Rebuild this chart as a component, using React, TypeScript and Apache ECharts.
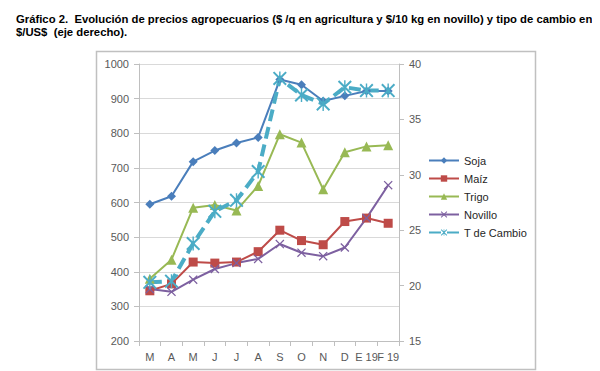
import React, { useEffect, useRef } from "react";
import * as echarts from "echarts";

const months = ["M", "A", "M", "J", "J", "A", "S", "O", "N", "D", "E 19", "F 19"];
const soja = [595, 618, 718, 750, 772, 788, 955, 940, 893, 908, 922, 922];
const maiz = [345, 365, 428, 425, 428, 458, 520, 490, 478, 545, 555, 540];
const trigo = [380, 435, 585, 593, 577, 648, 797, 773, 638, 745, 762, 765];
const novillo = [350, 342, 377, 408, 425, 437, 480, 455, 445, 470, 555, 650];
const tCambio = [20.3, 20.4, 23.8, 26.7, 27.7, 30.3, 38.7, 37.2, 36.4, 37.9, 37.6, 37.6];

const titleText =
  "Gráfico 2.  Evolución de precios agropecuarios ($ /q en agricultura y $/10 kg en novillo) y tipo de cambio en\n$/US$  (eje derecho).";

const X_SYMBOL = "path://M0,1L1,0L5,4L9,0L10,1L6,5L10,9L9,10L5,6L1,10L0,9L4,5Z";
const STAR_SYMBOL =
  "path://M0,1L1,0L5,4L9,0L10,1L6,5L10,9L9,10L5,6L1,10L0,9L4,5Z M4.5,0L5.5,0L5.5,10L4.5,10Z";

export default function App() {
  const ref = useRef<HTMLDivElement>(null);
  useEffect(() => {
    if (!ref.current) return;
    const chart = echarts.init(ref.current, null, { renderer: "svg" });
    const axisFont = { fontFamily: "Liberation Sans", fontSize: 11, color: "#595959" };
    chart.setOption({
      animation: false,
      backgroundColor: "#ffffff",
      graphic: [
        {
          type: "rect",
          shape: { x: 88.5, y: 43.5, width: 439, height: 318 },
          style: { fill: "none", stroke: "#c0c0c0", lineWidth: 1.5 },
          z: -1,
        },
        {
          type: "text",
          left: 8,
          top: 4,
          style: {
            text: titleText,
            font: "bold 11.3px 'Liberation Sans', Arial, sans-serif",
            fill: "#000000",
            lineHeight: 13,
          },
        },
      ],
      grid: { left: 131, right: 209, top: 56, bottom: 38, containLabel: false },
      legend: {
        orient: "vertical",
        left: 420,
        top: 147,
        padding: 0,
        itemWidth: 30,
        itemHeight: 8,
        itemGap: 7,
        textStyle: { fontFamily: "Liberation Sans", fontSize: 11, color: "#262626" },
        data: ["Soja", "Maíz", "Trigo", "Novillo", "T de Cambio"],
      },
      xAxis: {
        type: "category",
        data: months,
        boundaryGap: true,
        axisLine: { lineStyle: { color: "#bfbfbf" } },
        axisTick: { show: true, length: 5, lineStyle: { color: "#bfbfbf" } },
        axisLabel: { ...axisFont, interval: 0, margin: 10 },
      },
      yAxis: [
        {
          type: "value",
          min: 200,
          max: 1000,
          interval: 100,
          axisLine: { show: true, lineStyle: { color: "#bfbfbf" } },
          axisTick: { show: true, length: 5, lineStyle: { color: "#bfbfbf" } },
          axisLabel: { ...axisFont, margin: 10, formatter: (v: number) => String(v) },
          splitLine: { lineStyle: { color: "#d9d9d9" } },
        },
        {
          type: "value",
          min: 15,
          max: 40,
          interval: 5,
          position: "right",
          axisLine: { show: true, lineStyle: { color: "#bfbfbf" } },
          axisTick: { show: true, length: 5, lineStyle: { color: "#bfbfbf" } },
          axisLabel: { ...axisFont, margin: 10 },
          splitLine: { show: false },
        },
      ],
      series: [
        {
          name: "Soja",
          type: "line",
          data: soja,
          symbol: "diamond",
          symbolSize: 9,
          color: "#4a7ebb",
          lineStyle: { width: 2 },
        },
        {
          name: "Maíz",
          type: "line",
          data: maiz,
          symbol: "rect",
          symbolSize: 9,
          color: "#be4b48",
          lineStyle: { width: 2 },
        },
        {
          name: "Trigo",
          type: "line",
          data: trigo,
          symbol: "triangle",
          symbolSize: 10,
          color: "#98b954",
          lineStyle: { width: 2 },
        },
        {
          name: "Novillo",
          type: "line",
          data: novillo,
          symbol: X_SYMBOL,
          symbolSize: 9,
          color: "#7d60a0",
          lineStyle: { width: 2 },
        },
        {
          name: "T de Cambio",
          type: "line",
          yAxisIndex: 1,
          data: tCambio,
          symbol: STAR_SYMBOL,
          symbolSize: 14,
          color: "#4bacc6",
          lineStyle: { width: 4, type: [12, 6] },
        },
      ],
    });
    return () => chart.dispose();
  }, []);
  return <div ref={ref} style={{ width: 600, height: 371 }} />;
}
